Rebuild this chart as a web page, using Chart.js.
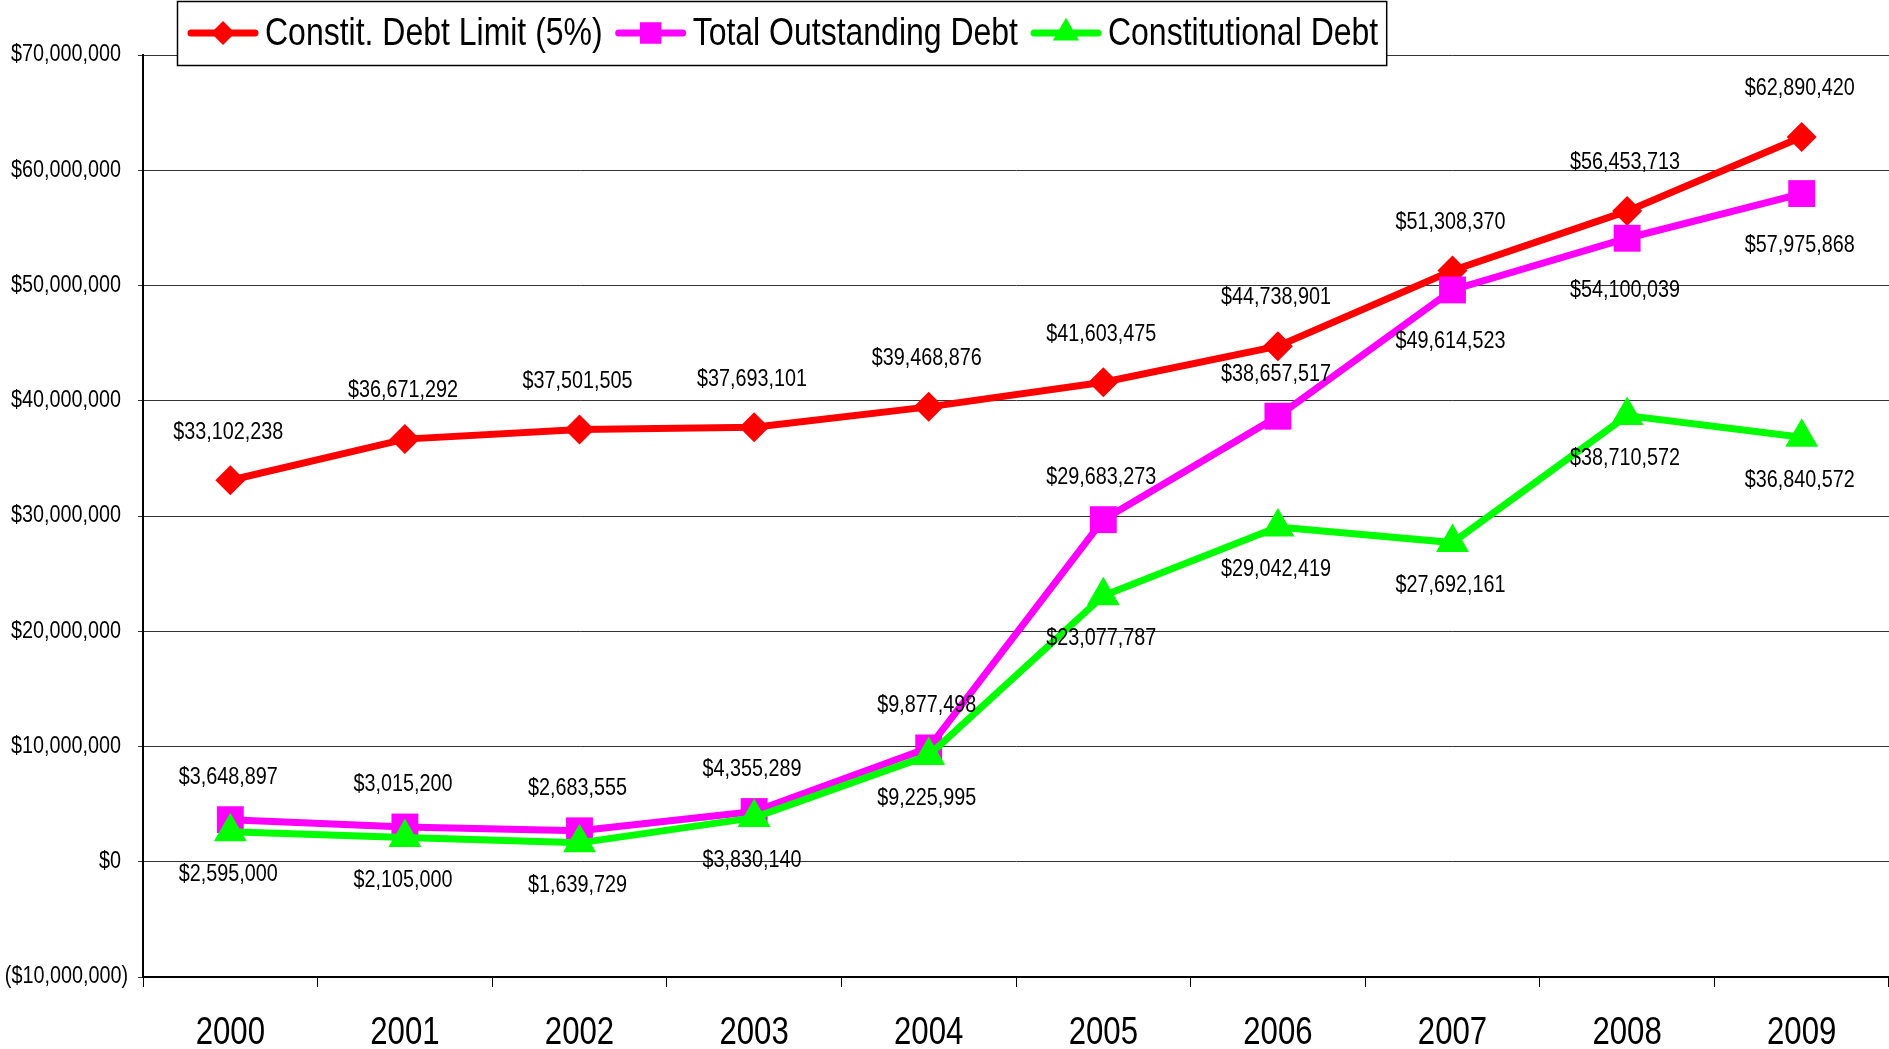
<!DOCTYPE html>
<html>
<head>
<meta charset="utf-8">
<script src="https://cdn.jsdelivr.net/npm/chart.js@4.4.1/dist/chart.umd.min.js"></script>
<style>
html, body { margin: 0; padding: 0; background: #fff; }
</style>
</head>
<body>
<canvas id="debtChart" width="1889" height="1049"></canvas>
<script>
// Chart data
const years = ['2000', '2001', '2002', '2003', '2004', '2005', '2006', '2007', '2008', '2009'];
const debtLimit = [33102238, 36671292, 37501505, 37693101, 39468876, 41603475, 44738901, 51308370, 56453713, 62890420];
const totalOutstanding = [3648897, 3015200, 2683555, 4355289, 9877498, 29683273, 38657517, 49614523, 54100039, 57975868];
const constitutionalDebt = [2595000, 2105000, 1639729, 3830140, 9225995, 23077787, 29042419, 27692161, 38710572, 36840572];
const seriesNames = ['Constit. Debt Limit (5%)', 'Total Outstanding Debt', 'Constitutional Debt'];
const yMin = -10000000;
const yMax = 70000000;
const yStep = 10000000;

// Arial Narrow look: Liberation Sans squeezed horizontally
const FONT = "'Liberation Sans', Arial, sans-serif";
const SQUEEZE = 0.82;
const SMALL_SQUEEZE = 0.86;

function money(v) {
    const s = '$' + Math.abs(v).toLocaleString('en-US');
    return v < 0 ? '(' + s + ')' : s;
}

function narrowText(ctx, text, x, y, align, sq) {
    ctx.save();
    ctx.translate(x, y);
    ctx.scale(sq, 1);
    ctx.textAlign = align;
    ctx.fillText(text, 0, 0);
    ctx.restore();
}

// Axis labels drawn in the narrow face at the scale positions
const axisLabels = {
    id: 'axisLabels',
    afterDraw(chart) {
        const ctx = chart.ctx;
        const xs = chart.scales.x, ys = chart.scales.y;
        ctx.save();
        ctx.fillStyle = '#000';
        ctx.textBaseline = 'middle';
        ctx.font = '23px ' + FONT;
        ys.ticks.forEach(t => {
            // accounting style: positives leave room for the closing paren
            const right = t.value < 0 ? 128 : 121;
            narrowText(ctx, money(t.value), right, ys.getPixelForValue(t.value), 'right', SMALL_SQUEEZE);
        });
        ctx.font = '38px ' + FONT;
        xs.ticks.forEach((t, i) => {
            narrowText(ctx, chart.data.labels[i], xs.getPixelForValue(i), 1034, 'center', SQUEEZE);
        });
        ctx.restore();
    }
};

// Value labels next to each point
const valueLabels = {
    id: 'valueLabels',
    afterDatasetsDraw(chart) {
        const ctx = chart.ctx;
        ctx.save();
        ctx.font = '23px ' + FONT;
        ctx.fillStyle = '#000';
        ctx.textBaseline = 'middle';
        chart.data.datasets.forEach((ds, di) => {
            const meta = chart.getDatasetMeta(di);
            meta.data.forEach((pt, i) => {
                let dy;
                if (di === 0) dy = -48;
                else if (di === 1) dy = i >= 7 ? 52 : -42;
                else dy = 43;
                narrowText(ctx, money(ds.data[i]), pt.x - 2, pt.y + dy, 'center', SMALL_SQUEEZE);
            });
        });
        ctx.restore();
    }
};

// Boxed legend at the top, overlapping the plot like the original
const legendBox = {
    id: 'legendBox',
    afterDraw(chart) {
        const ctx = chart.ctx;
        ctx.save();
        ctx.font = '39px ' + FONT;
        const y = 33;
        let x = 187;
        const items = [];
        chart.data.datasets.forEach(ds => {
            const w = ctx.measureText(ds.label).width * SQUEEZE;
            items.push({ ds, x, w });
            x += 72 + 6 + w + 12;
        });
        const right = x - 12 + 8;
        ctx.fillStyle = '#fff';
        ctx.fillRect(177, 1, right - 177, 65);
        ctx.strokeStyle = '#000';
        ctx.lineWidth = 1.5;
        ctx.strokeRect(177.5, 1.5, right - 177, 64);
        items.forEach(it => {
            ctx.strokeStyle = it.ds.borderColor;
            ctx.lineWidth = 7;
            ctx.lineCap = 'round';
            ctx.beginPath();
            ctx.moveTo(it.x + 4, y);
            ctx.lineTo(it.x + 68, y);
            ctx.stroke();
            ctx.fillStyle = it.ds.pointBackgroundColor;
            Chart.helpers.drawPoint(ctx, {
                pointStyle: it.ds.pointStyle,
                radius: it.ds.pointRadius * 0.8,
                rotation: 0,
                borderWidth: 0
            }, it.x + 36, y);
            ctx.fillStyle = '#000';
            ctx.textBaseline = 'middle';
            narrowText(ctx, it.ds.label, it.x + 78, y + 1, 'left', SQUEEZE);
        });
        ctx.restore();
    }
};

const ctx = document.getElementById('debtChart').getContext('2d');
const debtChart = new Chart(ctx, {
    type: 'line',
    data: {
        labels: years,
        datasets: [{
            label: seriesNames[0],
            data: debtLimit,
            borderColor: '#ff0000',
            backgroundColor: '#ff0000',
            pointBackgroundColor: '#ff0000',
            pointBorderColor: '#ff0000',
            borderWidth: 7,
            pointStyle: 'rectRot',
            pointRadius: 15,
            pointBorderWidth: 0,
            order: 3
        },
        {
            label: seriesNames[1],
            data: totalOutstanding,
            borderColor: '#ff00ff',
            backgroundColor: '#ff00ff',
            pointBackgroundColor: '#ff00ff',
            pointBorderColor: '#ff00ff',
            borderWidth: 7,
            pointStyle: 'rect',
            pointRadius: 19,
            pointBorderWidth: 0,
            order: 2
        },
        {
            label: seriesNames[2],
            data: constitutionalDebt,
            borderColor: '#00ff00',
            backgroundColor: '#00ff00',
            pointBackgroundColor: '#00ff00',
            pointBorderColor: '#00ff00',
            borderWidth: 7,
            pointStyle: 'triangle',
            pointRadius: 19,
            pointBorderWidth: 0,
            order: 1
        }]
    },
    options: {
        responsive: false,
        animation: false,
        layout: {
            autoPadding: false,
            padding: { top: 55, right: -5, bottom: 0, left: 0 }
        },
        plugins: {
            legend: { display: false },
            tooltip: { enabled: false }
        },
        scales: {
            x: {
                offset: true,
                grid: {
                    offset: true,
                    drawOnChartArea: false,
                    drawTicks: true,
                    tickLength: 10,
                    color: '#000'
                },
                border: { color: '#000', width: 2 },
                ticks: { display: false },
                afterFit(scale) { scale.height = 72; }
            },
            y: {
                min: yMin,
                max: yMax,
                ticks: {
                    stepSize: yStep,
                    color: 'rgba(0,0,0,0)',
                    font: { family: FONT, size: 18 },
                    callback: v => money(v)
                },
                grid: { color: '#333', lineWidth: 1, tickLength: 5 },
                border: { color: '#000', width: 2 },
                afterFit(scale) { scale.width = 143; }
            }
        }
    },
    plugins: [valueLabels, axisLabels, legendBox]
});
</script>
</body>
</html>
